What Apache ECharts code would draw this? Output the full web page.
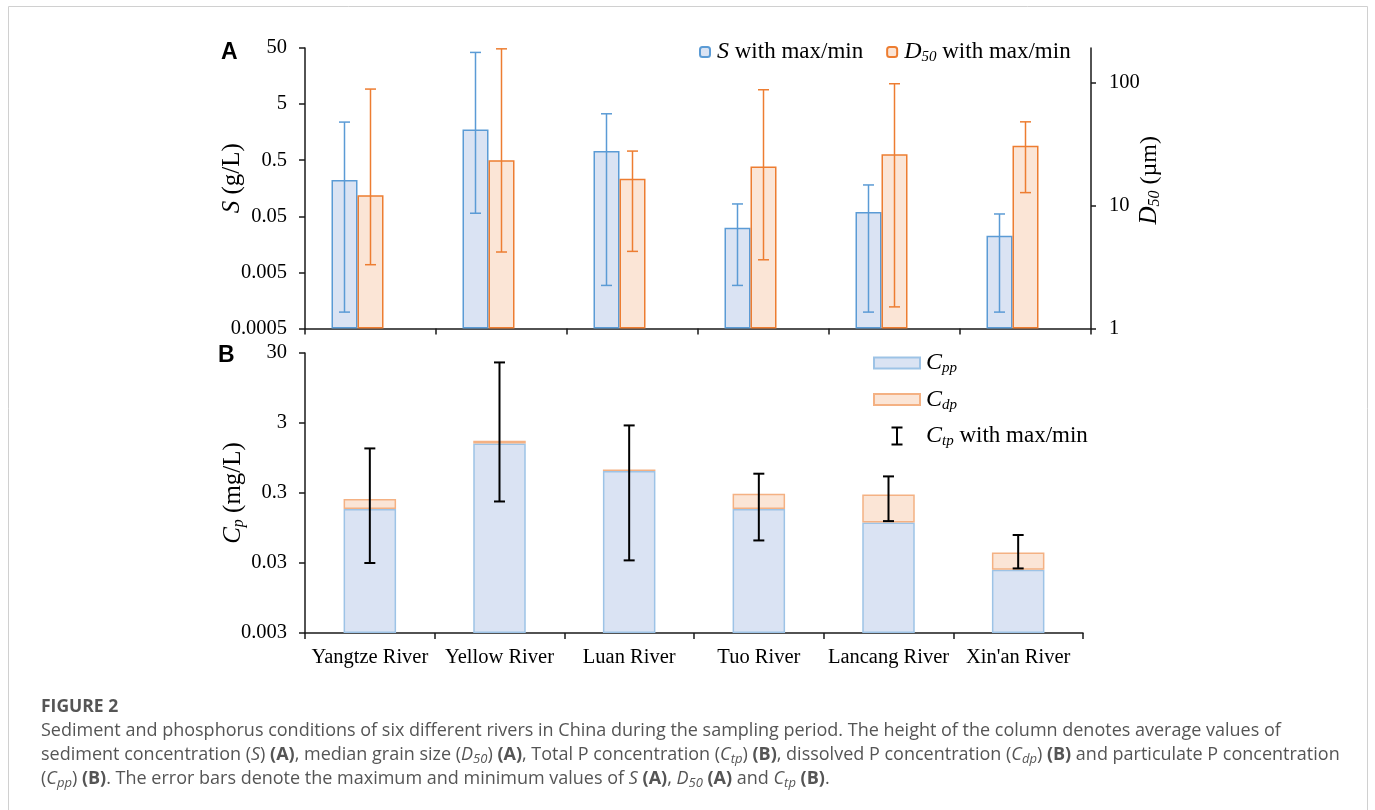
<!DOCTYPE html>
<html>
<head>
<meta charset="utf-8">
<script src="https://cdn.jsdelivr.net/npm/echarts@6/dist/echarts.min.js"></script>
<style>
html,body{margin:0;padding:0;background:#fff;}
#chart{width:1375px;height:810px;}
</style>
</head>
<body>
<div id="chart"></div>
<script>
// ---------- data ----------
const RIVERS = ['Yangtze River', 'Yellow River', 'Luan River', 'Tuo River', 'Lancang River', "Xin'an River"];
// Panel A: sediment concentration S (g/L)
const S_MEAN = [0.222, 1.76, 0.733, 0.0313, 0.0597, 0.0225];
const S_MAX  = [2.39, 41.7, 3.36, 0.083, 0.181, 0.055];
const S_MIN  = [0.00098, 0.0567, 0.00293, 0.00293, 0.00098, 0.00098];
// Panel A: median grain size D50 (um)
const D50_MEAN = [12.2, 23.5, 16.6, 20.9, 26.3, 30.9];
const D50_MAX  = [89.3, 190, 27.9, 88.2, 98.7, 48.3];
const D50_MIN  = [3.31, 4.2, 4.25, 3.63, 1.5, 12.8];
// Panel B: phosphorus (mg/L)
const CPP     = [0.177, 1.53, 0.618, 0.177, 0.114, 0.024];
const CDP     = [0.069, 0.145, 0.034, 0.116, 0.172, 0.0185];
const CTP_MAX = [1.30, 22.0, 2.77, 0.566, 0.518, 0.0753];
const CTP_MIN = [0.030, 0.227, 0.0327, 0.063, 0.119, 0.0251];
// tick labels (log axes)
const S_TICKS   = ['0.0005', '0.005', '0.05', '0.5', '5', '50'];
const D50_TICKS = ['1', '10', '100'];
const CP_TICKS  = ['0.003', '0.03', '0.3', '3', '30'];
const D50_AXIS_MAX = 193;

// ---------- log transforms (decades above axis minimum) ----------
const S_BASE = parseFloat(S_TICKS[0]);
const D_BASE = parseFloat(D50_TICKS[0]);
const P_BASE = parseFloat(CP_TICKS[0]);
const ls = v => Math.log10(v / S_BASE);
const ld = v => Math.log10(v / D_BASE);
const lp = v => Math.log10(v / P_BASE);

const SERIF = 'Liberation Serif';
const SANS_CAP = 'Open Sans';

function errRender(offsetPx, color, lw, capHalf) {
  return function (params, api) {
    const idx = api.value(0);
    const lo = api.coord([idx, api.value(1)]);
    const hi = api.coord([idx, api.value(2)]);
    const x = lo[0] + offsetPx;
    const style = { stroke: color, lineWidth: lw, fill: null };
    return {
      type: 'group',
      children: [
        { type: 'line', shape: { x1: x, y1: hi[1], x2: x, y2: lo[1] }, style: style },
        { type: 'line', shape: { x1: x - capHalf, y1: hi[1], x2: x + capHalf, y2: hi[1] }, style: style },
        { type: 'line', shape: { x1: x - capHalf, y1: lo[1], x2: x + capHalf, y2: lo[1] }, style: style }
      ]
    };
  };
}

const axisLineStyle = { show: true, lineStyle: { color: '#1a1a1a', width: 1.5 } };
const tickStyle = { show: true, length: 6, lineStyle: { color: '#1a1a1a', width: 1.5 } };
const labelBase = { fontFamily: SERIF, fontSize: 20.5, color: '#000' };
const nameRich = {
  i: { fontFamily: SERIF, fontSize: 25, fontStyle: 'italic', color: '#000' },
  sub: { fontFamily: SERIF, fontSize: 16, fontStyle: 'italic', color: '#000', padding: [11, 0, 0, 0] }
};
const legRich = {
  i: { fontFamily: SERIF, fontSize: 24, fontStyle: 'italic', color: '#000' },
  sub: { fontFamily: SERIF, fontSize: 15, fontStyle: 'italic', color: '#000', padding: [11, 0, 0, 0] },
  t: { fontFamily: SERIF, fontSize: 23, color: '#000' }
};
const LEG_LABELS = {
  'S': '{i|S}{t| with max/min}',
  'D50': '{i|D}{sub|50}{t| with max/min}',
  'Cpp': '{i|C}{sub|pp}',
  'Cdp': '{i|C}{sub|dp}',
  'Ctp': '{i|C}{sub|tp}{t| with max/min}'
};
const RECT_ICON = 'path://M0,0H46V11H0Z';
const IBEAM_ICON = 'path://M0,0H11V2H6.5V17H11V19H0V17H4.5V2H0Z';

const CAP_FS = 18;
const capRich = {
  i: { fontFamily: SANS_CAP, fontSize: CAP_FS, fontStyle: 'italic', fill: '#555' },
  b: { fontFamily: SANS_CAP, fontSize: CAP_FS, fontWeight: 'bold', fill: '#555' },
  s: { fontFamily: SANS_CAP, fontSize: 13, fontStyle: 'italic', fill: '#555', padding: [8, 0, 0, 0] }
};
const CAPTION = [
  'Sediment and phosphorus conditions of six different rivers in China during the sampling period. The height of the column denotes average values of',
  'sediment concentration ({i|S}) {b|(A)}, median grain size ({i|D}{s|50}) {b|(A)}, Total P concentration ({i|C}{s|tp}) {b|(B)}, dissolved P concentration ({i|C}{s|dp}) {b|(B)} and particulate P concentration',
  '({i|C}{s|pp}) {b|(B)}. The error bars denote the maximum and minimum values of {i|S} {b|(A)}, {i|D}{s|50} {b|(A)} and {i|C}{s|tp} {b|(B)}.'
];

const chart = echarts.init(document.getElementById('chart'), null, { renderer: 'canvas' });

const option = {
  animation: false,
  backgroundColor: '#fff',
  grid: [
    { left: 305, top: 48, width: 786, height: 280.5 },
    { left: 305, top: 353, width: 778, height: 280 }
  ],
  legend: [
    {
      left: 694, top: 35, orient: 'horizontal', itemWidth: 10, itemHeight: 10, itemGap: 23,
      selectedMode: false, data: ['S', 'D50'],
      formatter: n => LEG_LABELS[n],
      textStyle: { fontFamily: SERIF, fontSize: 23, color: '#000', rich: legRich, padding: [0, 0, 0, 2] }
    },
    {
      left: 868, top: 346, orient: 'vertical', itemWidth: 46, itemHeight: 19, itemGap: 11.5,
      selectedMode: false,
      data: [{ name: 'Cpp', icon: RECT_ICON }, { name: 'Cdp', icon: RECT_ICON }, { name: 'Ctp', icon: IBEAM_ICON }],
      formatter: n => LEG_LABELS[n],
      textStyle: { fontFamily: SERIF, fontSize: 23, color: '#000', rich: legRich, padding: [0, 0, 0, 1] }
    }
  ],
  xAxis: [
    {
      type: 'category', gridIndex: 0, data: RIVERS,
      axisLine: axisLineStyle, axisTick: tickStyle, axisLabel: { show: false }, splitLine: { show: false }
    },
    {
      type: 'category', gridIndex: 1, data: RIVERS,
      axisLine: axisLineStyle, axisTick: tickStyle,
      axisLabel: Object.assign({ margin: 14, interval: 0 }, labelBase), splitLine: { show: false }
    }
  ],
  yAxis: [
    {
      type: 'value', gridIndex: 0, min: 0, max: S_TICKS.length - 1, interval: 1,
      axisLine: axisLineStyle, axisTick: tickStyle, splitLine: { show: false },
      axisLabel: Object.assign({ margin: 18, formatter: v => S_TICKS[Math.round(v)] }, labelBase),
      name: '{i|S} (g/L)', nameLocation: 'middle', nameGap: 60, nameMoveOverlap: false,
      nameTextStyle: { fontFamily: SERIF, fontSize: 25, color: '#000', rich: nameRich, padding: [0, 0, 0, 20] }
    },
    {
      type: 'value', gridIndex: 0, position: 'right', min: 0, max: ld(D50_AXIS_MAX),
      axisLine: axisLineStyle,
      axisTick: Object.assign({}, tickStyle, { length: 5, customValues: D50_TICKS.map((t, i) => i) }),
      splitLine: { show: false },
      axisLabel: Object.assign({ margin: 18, customValues: D50_TICKS.map((t, i) => i), formatter: v => D50_TICKS[Math.round(v)] }, labelBase),
      name: '{i|D}{sub|50} (µm)', nameLocation: 'middle', nameGap: 45, nameMoveOverlap: false,
      nameTextStyle: { fontFamily: SERIF, fontSize: 24, color: '#000', rich: nameRich, padding: [0, 0, 0, 16] }
    },
    {
      type: 'value', gridIndex: 1, min: 0, max: CP_TICKS.length - 1, interval: 1,
      axisLine: axisLineStyle, axisTick: tickStyle, splitLine: { show: false },
      axisLabel: Object.assign({ margin: 18, formatter: v => CP_TICKS[Math.round(v)] }, labelBase),
      name: '{i|C}{sub|p} (mg/L)', nameLocation: 'middle', nameGap: 58, nameMoveOverlap: false,
      nameTextStyle: { fontFamily: SERIF, fontSize: 25, color: '#000', rich: nameRich }
    }
  ],
  series: [
    {
      name: 'S', type: 'bar', xAxisIndex: 0, yAxisIndex: 0, barWidth: 26, barGap: '0%',
      data: S_MEAN.map(ls),
      itemStyle: { color: '#dae3f3', borderColor: '#5b9bd5', borderWidth: 1.5 }
    },
    {
      name: 'D50', type: 'bar', xAxisIndex: 0, yAxisIndex: 1, barWidth: 26, barGap: '0%',
      data: D50_MEAN.map(ld),
      itemStyle: { color: '#fbe5d6', borderColor: '#ed7d31', borderWidth: 1.5 }
    },
    {
      name: 'spacer', type: 'bar', xAxisIndex: 0, yAxisIndex: 0, barWidth: 26, barGap: '0%',
      data: [], silent: true
    },
    {
      name: 'S range', type: 'custom', xAxisIndex: 0, yAxisIndex: 0, z: 10,
      renderItem: errRender(-26, '#5b9bd5', 1.5, 5.5),
      encode: { x: 0, y: [1, 2] },
      data: RIVERS.map((r, i) => [i, ls(S_MIN[i]), ls(S_MAX[i])])
    },
    {
      name: 'D50 range', type: 'custom', xAxisIndex: 0, yAxisIndex: 1, z: 10,
      renderItem: errRender(0, '#ed7d31', 1.5, 5.5),
      encode: { x: 0, y: [1, 2] },
      data: RIVERS.map((r, i) => [i, ld(D50_MIN[i]), ld(D50_MAX[i])])
    },
    {
      name: 'Cpp', type: 'bar', xAxisIndex: 1, yAxisIndex: 2, stack: 'p', barWidth: 52.5,
      data: CPP.map(lp),
      itemStyle: { color: '#dae3f3', borderColor: '#9dc3e6', borderWidth: 1.5 }
    },
    {
      name: 'Cdp', type: 'bar', xAxisIndex: 1, yAxisIndex: 2, stack: 'p', barWidth: 52.5,
      data: CPP.map((v, i) => Math.log10((v + CDP[i]) / v)),
      itemStyle: { color: '#fbe5d6', borderColor: '#f4b183', borderWidth: 1.5 }
    },
    {
      name: 'Ctp', type: 'custom', xAxisIndex: 1, yAxisIndex: 2, z: 10,
      renderItem: errRender(0, '#000', 2, 5.5),
      encode: { x: 0, y: [1, 2] },
      itemStyle: { color: '#000' },
      data: RIVERS.map((r, i) => [i, lp(CTP_MIN[i]), lp(CTP_MAX[i])])
    }
  ],
  graphic: [
    {
      type: 'rect', silent: true, z: -1,
      shape: { x: 8.5, y: 6.5, width: 1359, height: 840 },
      style: { fill: null, stroke: '#d0d0d0', lineWidth: 1 }
    },
    {
      type: 'text', x: 221, y: 53,
      style: { text: 'A', fontFamily: 'Liberation Sans', fontWeight: 'bold', fontSize: 23, fill: '#000', verticalAlign: 'middle' }
    },
    {
      type: 'text', x: 218, y: 356,
      style: { text: 'B', fontFamily: 'Liberation Sans', fontWeight: 'bold', fontSize: 23, fill: '#000', verticalAlign: 'middle' }
    },
    {
      type: 'text', x: 41, y: 707,
      style: { text: 'FIGURE 2', fontFamily: SANS_CAP, fontWeight: 'bold', fontSize: 17.5, fill: '#555', verticalAlign: 'middle' }
    },
    {
      type: 'text', x: 41, y: 731,
      style: { text: CAPTION[0], fontFamily: SANS_CAP, fontSize: CAP_FS, fill: '#555', verticalAlign: 'middle', rich: capRich }
    },
    {
      type: 'text', x: 41, y: 755,
      style: { text: CAPTION[1], fontFamily: SANS_CAP, fontSize: CAP_FS, fill: '#555', verticalAlign: 'middle', rich: capRich }
    },
    {
      type: 'text', x: 41, y: 779,
      style: { text: CAPTION[2], fontFamily: SANS_CAP, fontSize: CAP_FS, fill: '#555', verticalAlign: 'middle', rich: capRich }
    }
  ]
};
chart.setOption(option);
</script>
</body>
</html>
